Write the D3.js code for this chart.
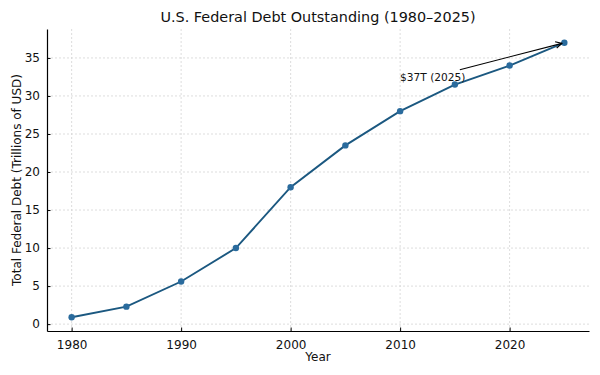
<!DOCTYPE html>
<html>
<head>
<meta charset="utf-8">
<script src="https://cdn.jsdelivr.net/npm/d3@7"></script>
<style>
  body { margin: 0; background: #fff; }
  svg { display: block; font-family: "DejaVu Sans", sans-serif; }
</style>
</head>
<body>
<script>
// 数据
const years = [1980, 1985, 1990, 1995, 2000, 2005, 2010, 2015, 2020, 2025];
const debt = [0.9, 2.3, 5.6, 10, 18, 23.5, 28, 31.5, 34, 37];
const xTicks = [1980, 1990, 2000, 2010, 2020];
const yTicks = [0, 5, 10, 15, 20, 25, 30, 35];
const note = { text: "$37T (2025)", tx: 2010, ty: 32, x: 2025, y: 37 };

const width = 600, height = 375;
const margin = { top: 29, right: 11, bottom: 44, left: 47 };
const lineColor = "#1b5880";
const dotColor = "#2a6b9d";

const svg = d3.select("body").append("svg")
  .attr("width", width)
  .attr("height", height);

// 比例尺（matplotlib 默认 5% 边距）
const x = d3.scaleLinear().domain([1977.75, 2027.25]).range([margin.left, width - margin.right]);
const y = d3.scaleLinear().domain([-0.905, 38.805]).range([height - margin.bottom, margin.top]);

// 网格线
const grid = svg.append("g")
  .attr("stroke", "#d4d4d4")
  .attr("stroke-width", 0.8)
  .attr("stroke-dasharray", "2,2");
grid.selectAll(".gx").data(xTicks).join("line")
  .attr("x1", d => x(d)).attr("x2", d => x(d))
  .attr("y1", margin.top).attr("y2", height - margin.bottom);
grid.selectAll(".gy").data(yTicks).join("line")
  .attr("x1", margin.left).attr("x2", width - margin.right)
  .attr("y1", d => y(d)).attr("y2", d => y(d));

// 坐标轴（刻度朝内）
const xAxis = svg.append("g")
  .attr("transform", `translate(0,${height - margin.bottom})`)
  .call(d3.axisBottom(x).tickValues(xTicks).tickFormat(d3.format("d")).tickSizeInner(-3.5).tickSizeOuter(0).tickPadding(7));
const yAxis = svg.append("g")
  .attr("transform", `translate(${margin.left},0)`)
  .call(d3.axisLeft(y).tickValues(yTicks).tickSizeInner(-3.5).tickSizeOuter(0).tickPadding(7));

[xAxis, yAxis].forEach(a => {
  a.select(".domain").attr("stroke", "#000").attr("stroke-width", 1.2);
  a.selectAll(".tick line").attr("stroke", "#000").attr("stroke-width", 1);
  a.selectAll(".tick text").attr("font-size", 12).attr("fill", "#111").attr("font-family", "DejaVu Sans");
});
xAxis.selectAll(".tick text").attr("dy", "0.95em");

// 折线与数据点
const pts = years.map((d, i) => [d, debt[i]]);
svg.append("path")
  .datum(pts)
  .attr("fill", "none")
  .attr("stroke", lineColor)
  .attr("stroke-width", 1.9)
  .attr("d", d3.line().x(d => x(d[0])).y(d => y(d[1])));

svg.append("g").selectAll("circle").data(pts).join("circle")
  .attr("cx", d => x(d[0]))
  .attr("cy", d => y(d[1]))
  .attr("r", 3.2)
  .attr("fill", dotColor);

// 注释文字与箭头（箭头起点裁剪到文字边框）
const label = svg.append("text")
  .attr("x", x(note.tx))
  .attr("y", y(note.ty))
  .attr("font-size", 10.6)
  .attr("fill", "#111")
  .text(note.text);

const bb = label.node().getBBox();
const cx0 = bb.x + bb.width / 2, cy0 = bb.y + bb.height / 2;
const tx = x(note.x), ty = y(note.y);
const dx = tx - cx0, dy = ty - cy0;
const hw = bb.width / 2 + 1, hh = bb.height / 2 + 1;
const t = Math.min(hw / Math.abs(dx), hh / Math.abs(dy));
const sx = cx0 + dx * t, sy = cy0 + dy * t;
const len = Math.hypot(tx - sx, ty - sy);
const ex = tx - (tx - sx) / len * 2.5, ey = ty - (ty - sy) / len * 2.5;

svg.append("line")
  .attr("x1", sx).attr("y1", sy).attr("x2", ex).attr("y2", ey)
  .attr("stroke", "#000").attr("stroke-width", 1.1);
const ang = Math.atan2(ey - sy, ex - sx);
const head = [ang + Math.PI * 0.85, ang - Math.PI * 0.85].map(a => [ex + 7 * Math.cos(a), ey + 7 * Math.sin(a)]);
svg.append("path")
  .attr("d", `M${head[0]}L${ex},${ey}L${head[1]}`)
  .attr("fill", "none").attr("stroke", "#000").attr("stroke-width", 1.1);

// 标题与坐标轴标签
svg.append("text")
  .attr("x", (margin.left + width - margin.right) / 2)
  .attr("y", 22)
  .attr("text-anchor", "middle")
  .attr("font-size", 14.4)
  .attr("fill", "#111")
  .text("U.S. Federal Debt Outstanding (1980–2025)");

svg.append("text")
  .attr("x", (margin.left + width - margin.right) / 2)
  .attr("y", 361)
  .attr("text-anchor", "middle")
  .attr("font-size", 12)
  .attr("fill", "#111")
  .text("Year");

svg.append("text")
  .attr("transform", `translate(21,${(margin.top + height - margin.bottom) / 2}) rotate(-90)`)
  .attr("text-anchor", "middle")
  .attr("font-size", 12)
  .attr("fill", "#111")
  .text("Total Federal Debt (Trillions of USD)");
</script>
</body>
</html>
